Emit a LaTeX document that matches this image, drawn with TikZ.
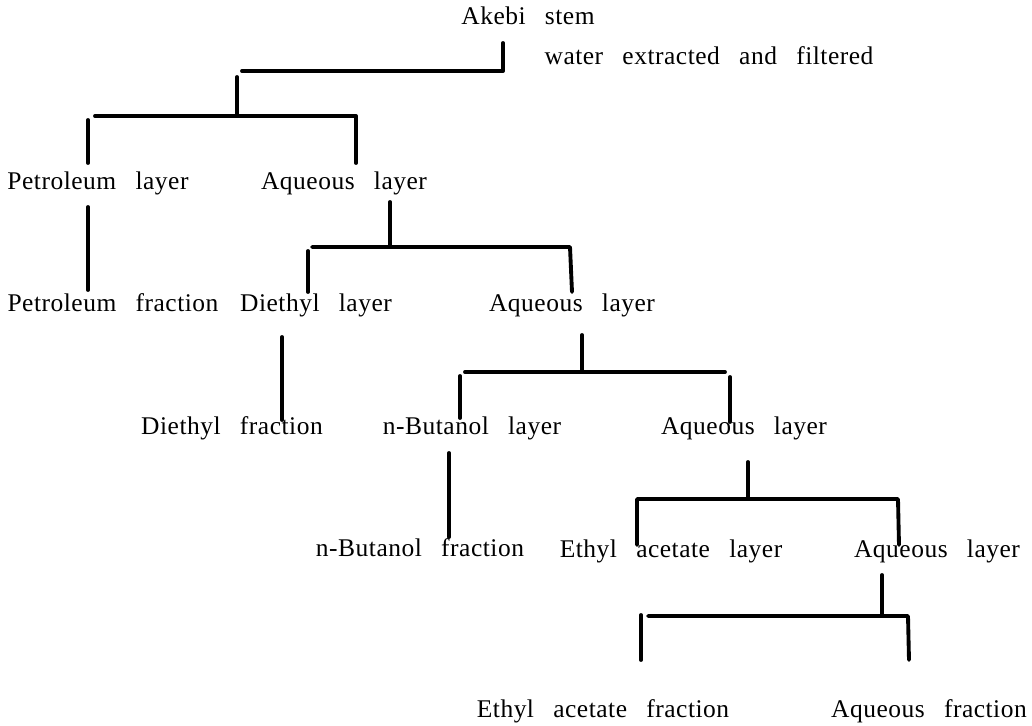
\documentclass[tikz,border=0pt]{standalone}
\usepackage{fontspec}
\setmainfont{Liberation Serif}[LetterSpace=2,WordSpace=2.8]
\usepackage{tikz}
\usetikzlibrary{arrows}
\tikzset{
	bar/.style={line width=2.2pt,line cap=round,line join=round},
	lbl/.style={anchor=base,inner sep=0pt,font=\fontsize{14.5}{16}\selectfont}
}

\begin{document}
\begin{tikzpicture}[x=0.02cm,y=-0.02cm]
	\useasboundingbox (0,0) rectangle (1032,726);
	\node[lbl] (0) at (528,25) {Akebi stem};
	\node[lbl] (1) at (709,65) {water extracted and filtered};
	\node[lbl] (2) at (98,190) {Petroleum layer};
	\node[lbl] (3) at (344,190) {Aqueous layer};
	\node[lbl] (4) at (113,312) {Petroleum fraction};
	\node[lbl] (5) at (316,312) {Diethyl layer};
	\node[lbl] (6) at (572,312) {Aqueous layer};
	\node[lbl] (7) at (232,435) {Diethyl fraction};
	\node[lbl] (8) at (472,435) {n-Butanol layer};
	\node[lbl] (9) at (744,435) {Aqueous layer};
	\node[lbl] (10) at (420,556) {n-Butanol fraction};
	\node[lbl] (11) at (671,557) {Ethyl acetate layer};
	\node[lbl] (12) at (937,557) {Aqueous layer};
	\node[lbl] (13) at (603,717) {Ethyl acetate fraction};
	\node[lbl] (14) at (929,717) {Aqueous fraction};
	% stem
	\coordinate (0a) at (503,43); \coordinate (0b) at (503,71); \coordinate (0c) at (242,71);
	\coordinate (0d) at (237,77); \coordinate (0e) at (237,115);
	\coordinate (0f) at (95,116); \coordinate (0g) at (356,116); \coordinate (0h) at (356,163);
	\coordinate (0i) at (88,120); \coordinate (0j) at (88,163);
	\draw[bar] (0a)--(0b)--(0c);
	\draw[bar] (0d)--(0e);
	\draw[bar] (0f)--(0g)--(0h);
	\draw[bar] (0i)--(0j);
	% petroleum
	\coordinate (2a) at (88,207); \coordinate (2b) at (88,290);
	\draw[bar] (2a)--(2b);
	% aqueous 1
	\coordinate (3a) at (390,202); \coordinate (3b) at (390,245);
	\coordinate (3c) at (312,247); \coordinate (3d) at (570,247); \coordinate (3e) at (572,292);
	\coordinate (3f) at (308,251); \coordinate (3g) at (308,292);
	\draw[bar] (3a)--(3b);
	\draw[bar] (3c)--(3d)--(3e);
	\draw[bar] (3f)--(3g);
	% diethyl
	\coordinate (5a) at (282,337); \coordinate (5b) at (282,420);
	\draw[bar] (5a)--(5b);
	% aqueous 2
	\coordinate (6a) at (582,335); \coordinate (6b) at (582,370);
	\coordinate (6c) at (465,372); \coordinate (6d) at (725,372);
	\coordinate (6e) at (460,376); \coordinate (6f) at (460,418);
	\coordinate (6g) at (730,377); \coordinate (6h) at (730,422);
	\draw[bar] (6a)--(6b);
	\draw[bar] (6c)--(6d);
	\draw[bar] (6e)--(6f);
	\draw[bar] (6g)--(6h);
	% n-butanol
	\coordinate (8a) at (449,453); \coordinate (8b) at (449,537);
	\draw[bar] (8a)--(8b);
	% aqueous 3
	\coordinate (9a) at (748,462); \coordinate (9b) at (748,497);
	\coordinate (9c) at (637,545); \coordinate (9d) at (637,499);
	\coordinate (9e) at (898,499); \coordinate (9f) at (899,545);
	\draw[bar] (9a)--(9b);
	\draw[bar] (9c)--(9d)--(9e)--(9f);
	% aqueous 4
	\coordinate (12a) at (882,575); \coordinate (12b) at (882,614);
	\coordinate (12c) at (648,616); \coordinate (12d) at (908,616); \coordinate (12e) at (909,660);
	\coordinate (12f) at (641,615); \coordinate (12g) at (641,660);
	\draw[bar] (12a)--(12b);
	\draw[bar] (12c)--(12d)--(12e);
	\draw[bar] (12f)--(12g);
\end{tikzpicture}
\end{document}
